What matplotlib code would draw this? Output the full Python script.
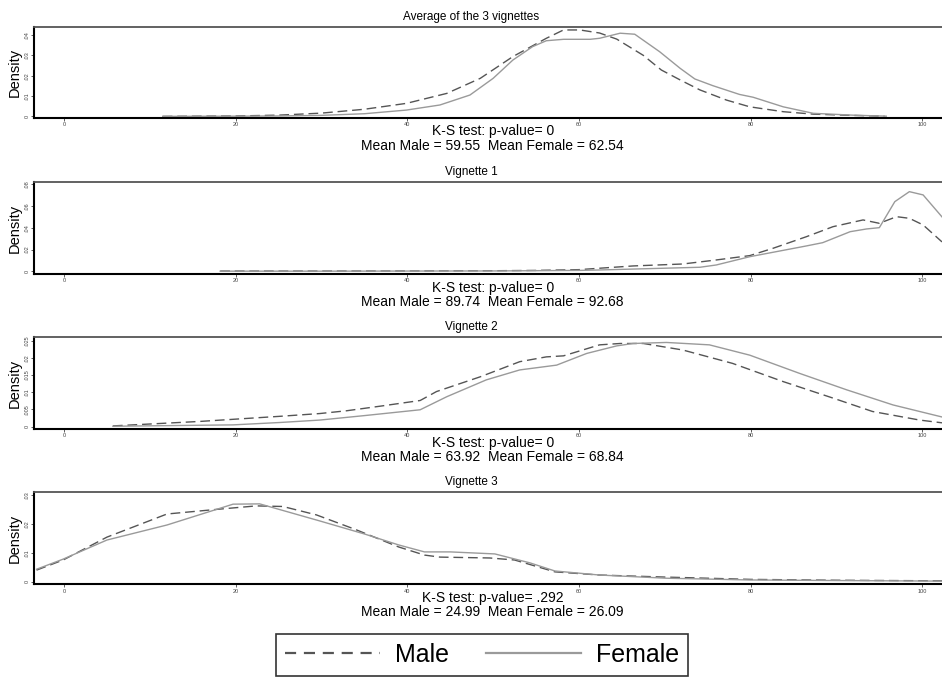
import matplotlib
matplotlib.use("Agg")
import matplotlib.pyplot as plt
from matplotlib.lines import Line2D

plt.rcParams['font.family'] = ['Liberation Sans', 'DejaVu Sans']

# ---------------- data ----------------
titles = ["Average of the 3 vignettes", "Vignette 1", "Vignette 2", "Vignette 3"]
ks_pvalues = ["0", "0", "0", ".292"]
mean_male = ["59.55", "89.74", "63.92", "24.99"]
mean_female = ["62.54", "92.68", "68.84", "26.09"]

avg_x_m = [11.5, 20, 25, 30, 35, 39.9, 44.6, 48.5, 52.3, 56.2, 58.2, 60.1, 62.4, 64.4, 67.5, 69.6, 71.8, 74.1, 77.2, 79.9, 83.8, 87.3, 91.6, 95.6]
avg_m = [0, 0.0002, 0.0006, 0.0016, 0.0035, 0.0064, 0.0113, 0.0187, 0.0294, 0.0384, 0.0425, 0.0425, 0.041, 0.038, 0.030, 0.0228, 0.0179, 0.013, 0.008, 0.0047, 0.0023, 0.0011, 0.0005, 0.0001]
avg_x_f = [11.5, 20, 25, 30, 35, 39.9, 43.8, 47.3, 50, 52.3, 54.6, 56.2, 58.2, 61.3, 62.4, 64.8, 66.5, 69.4, 71.8, 73.5, 75.6, 78.7, 80.3, 83.8, 87.3, 91.9, 95.8]
avg_f = [0, 0.0001, 0.0002, 0.0005, 0.0013, 0.0031, 0.0056, 0.0105, 0.0187, 0.0277, 0.0343, 0.0372, 0.0379, 0.0379, 0.0384, 0.0409, 0.0404, 0.0318, 0.0236, 0.0184, 0.0151, 0.0108, 0.0094, 0.0047, 0.0015, 0.0006, 0.0001]

v1_x_m = [18.2, 30, 40, 50, 55, 60, 62.4, 66.3, 72.1, 76, 79.9, 82.6, 86.5, 89.6, 93.1, 95, 97, 98.5, 100.1, 102.3]
v1_m = [0.0002, 0.0002, 0.0003, 0.0005, 0.0008, 0.0015, 0.0028, 0.0049, 0.0067, 0.0104, 0.0144, 0.0211, 0.0318, 0.041, 0.0472, 0.0441, 0.0502, 0.0487, 0.0426, 0.0270]
v1_x_f = [18.2, 30, 40, 50, 60, 62.4, 74.1, 76, 79.9, 86.5, 88.4, 91.6, 93.5, 95, 96.8, 98.5, 100.1, 102.3]
v1_f = [0.0001, 0.0001, 0.0002, 0.0003, 0.0008, 0.0012, 0.0037, 0.0058, 0.0134, 0.0233, 0.0263, 0.0364, 0.0389, 0.0401, 0.064, 0.0732, 0.0702, 0.050]

v2_x_m = [5.7, 15.8, 25.2, 29.8, 32.9, 37, 41.5, 43.4, 48.5, 53.1, 56.2, 58.2, 62.4, 64.8, 67.5, 72.1, 77.9, 83.8, 89.6, 94.2, 99.7, 102.3]
v2_m = [0.0002, 0.0015, 0.0030, 0.0038, 0.0046, 0.0060, 0.0076, 0.0102, 0.0145, 0.0189, 0.0203, 0.0206, 0.0238, 0.0242, 0.0242, 0.0223, 0.0184, 0.0131, 0.0083, 0.0044, 0.0019, 0.0011]
v2_x_f = [5.7, 19.7, 25.2, 29.8, 35, 41.5, 44.6, 49.2, 53.1, 57.4, 60.9, 64.4, 66.3, 70.2, 75.2, 79.9, 85.7, 91.2, 96.6, 102.3]
v2_f = [0.0001, 0.0005, 0.0012, 0.0019, 0.0032, 0.0049, 0.0087, 0.0136, 0.0165, 0.0179, 0.0213, 0.0235, 0.0242, 0.0245, 0.0238, 0.0208, 0.0155, 0.0107, 0.0063, 0.0028]

v3_x_m = [-3.2, -0.1, 5, 12, 17.8, 22.4, 25.5, 29.4, 34, 39, 42, 43.8, 49.6, 52.5, 57.2, 62.4, 70, 80, 90, 102.3]
v3_m = [0.004, 0.0075, 0.0154, 0.0234, 0.025, 0.0262, 0.026, 0.0231, 0.018, 0.012, 0.0092, 0.0085, 0.0082, 0.0075, 0.0034, 0.0023, 0.0016, 0.0008, 0.0005, 0.0003]
v3_x_f = [-3.2, -0.1, 5, 12, 19.7, 22.8, 29.8, 35, 39, 42, 45, 50.2, 54.3, 57.2, 62.4, 70.2, 79.9, 90, 102.3]
v3_f = [0.0043, 0.0078, 0.0144, 0.0196, 0.0268, 0.0269, 0.021, 0.0165, 0.0127, 0.0103, 0.0103, 0.0096, 0.0065, 0.0037, 0.0023, 0.0012, 0.0006, 0.0004, 0.0002]

male_x = [avg_x_m, v1_x_m, v2_x_m, v3_x_m]
male_y = [avg_m, v1_m, v2_m, v3_m]
female_x = [avg_x_f, v1_x_f, v2_x_f, v3_x_f]
female_y = [avg_f, v1_f, v2_f, v3_f]

y_ticks = [[0, .01, .02, .03, .04], [0, .02, .04, .06, .08],
           [0, .005, .01, .015, .02, .025], [0, .01, .02, .03]]
y_ticklabels = [["0", ".01", ".02", ".03", ".04"], ["0", ".02", ".04", ".06", ".08"],
                ["0", ".005", ".01", ".015", ".02", ".025"], ["0", ".01", ".02", ".03"]]
y_lims = [(-0.0008, 0.0441), (-0.0025, 0.0818), (-0.0007, 0.026), (-0.0009, 0.0309)]
x_ticks = [0, 20, 40, 60, 80, 100]
x_lim = (-3.46, 102.3)

# ---------------- layout (pixels) ----------------
W, H = 942, 680
fig = plt.figure(figsize=(W / 100, H / 100), dpi=100)
fig.patch.set_facecolor('white')

left_px = 34.3
panel_tops = [26.7, 182.3, 337.3, 492.3]
panel_bots = [118.0, 274.0, 429.0, 584.3]

male_color = '#555555'
female_color = '#9a9a9a'

for i in range(4):
    t, b = panel_tops[i], panel_bots[i]
    ax = fig.add_axes([left_px / W, 1 - b / H, 1.0 - left_px / W + 0.01, (b - t) / H])
    ax.plot(male_x[i], male_y[i], color=male_color, lw=1.0, linestyle=(0, (7, 3.5)))
    ax.plot(female_x[i], female_y[i], color=female_color, lw=1.0)
    ax.set_xlim(x_lim[0], x_lim[1] + (0.01 * W) / 8.585)
    ax.set_ylim(*y_lims[i])
    ax.set_xticks(x_ticks)
    ax.set_xticklabels([str(v) for v in x_ticks], fontsize=4, color='#444444')
    ax.set_yticks(y_ticks[i])
    ax.set_yticklabels(y_ticklabels[i], fontsize=4, color='#444444', rotation=90, va='center')
    ax.tick_params(axis='both', length=2.0, width=0.6, pad=1.2, colors='#444444')
    ax.spines['right'].set_visible(False)
    ax.spines['left'].set_linewidth(1.5)
    ax.spines['bottom'].set_linewidth(1.5)
    ax.spines['top'].set_linewidth(1.3)
    ax.spines['top'].set_color('#555555')
    ax.set_ylabel('Density', fontsize=10.5)
    ax.yaxis.set_label_coords(-0.0135, 0.5)
    # title and notes
    fig.text(0.5, 1 - (t - 10) / H, titles[i], ha='center', va='center', fontsize=8.5)
    fig.text(0.523, 1 - (b + 13.5) / H, "K-S test: p-value= " + ks_pvalues[i],
             ha='center', va='center', fontsize=10)
    fig.text(0.523, 1 - (b + 28.0) / H,
             "Mean Male = " + mean_male[i] + "  Mean Female = " + mean_female[i],
             ha='center', va='center', fontsize=10)

handles = [Line2D([], [], color=male_color, lw=1.6, linestyle=(0, (5, 3.5))),
           Line2D([], [], color=female_color, lw=1.6)]
leg = fig.legend(handles, ['Male', 'Female'], loc='lower center',
                 bbox_to_anchor=(482 / W, -0.012), ncol=2, fontsize=18,
                 handlelength=3.8, columnspacing=1.5, handletextpad=0.6,
                 frameon=True, fancybox=False, edgecolor='black', borderpad=0.35,
                 borderaxespad=0.5)
leg.get_frame().set_linewidth(1.2)

fig.savefig('out.png', dpi=100, facecolor='white')
